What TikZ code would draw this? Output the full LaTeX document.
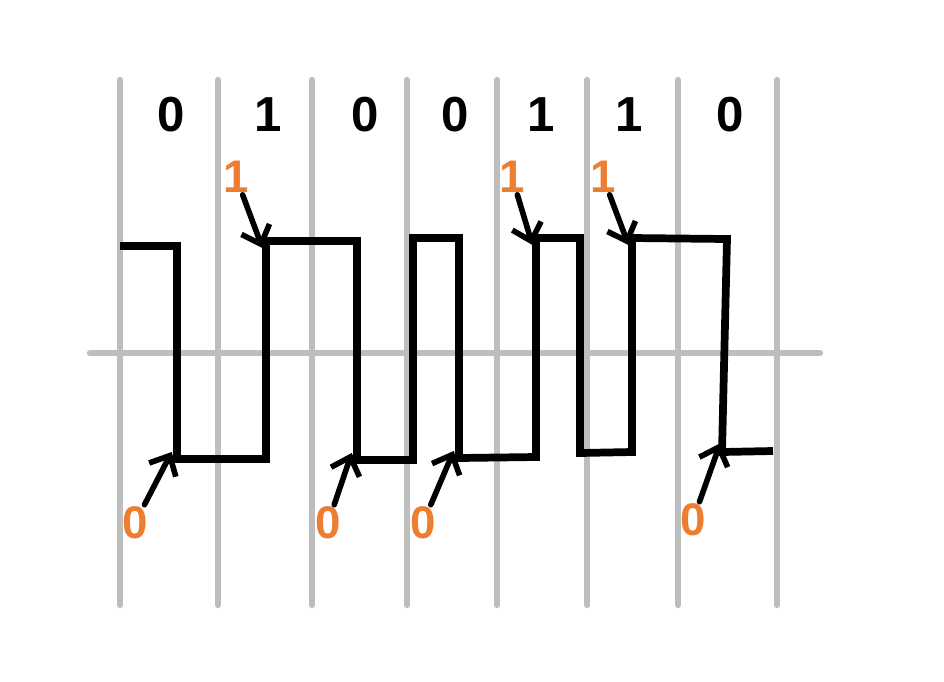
\documentclass[tikz,border=0pt]{standalone}
\usepackage{fontspec}
\setmainfont{Liberation Sans}
\usepackage{xcolor}
\usetikzlibrary{arrows.meta,positioning}
\definecolor{bitorange}{RGB}{237,125,49}
\definecolor{gridgray}{RGB}{190,190,190}

\begin{document}
\begin{tikzpicture}[
    x=0.02cm, y=-0.02cm,
    grid/.style={line width=3.6pt, gridgray, line cap=round},
    signal/.style={line width=4.4pt, black, line join=miter},
    bit/.style={font=\fontsize{28}{30}\selectfont\bfseries, inner sep=1pt},
    level/.style={font=\fontsize{26}{28}\selectfont\bfseries, text=bitorange, inner sep=1pt},
    pointer/.style={-{Straight Barb[length=3.2mm, width=6mm, line width=0pt 1]}, line width=3.2pt, black, line cap=round},
]
\useasboundingbox (0,0) rectangle (944,681);
% Raster
\draw[grid] (90,353) -- (820,353);
\draw[grid] (120,80) -- (120,605);
\draw[grid] (218,80) -- (218,605);
\draw[grid] (312,80) -- (312,605);
\draw[grid] (407,80) -- (407,605);
\draw[grid] (497,80) -- (497,605);
\draw[grid] (587,80) -- (587,605);
\draw[grid] (678,80) -- (678,605);
\draw[grid] (777,80) -- (777,605);
% Bitfolge
\node[bit] (b1) at (171,115) {0};
\node[bit] (b2) at (268,115) {1};
\node[bit] (b3) at (365,115) {0};
\node[bit] (b4) at (455,115) {0};
\node[bit] (b5) at (541,115) {1};
\node[bit] (b6) at (629,115) {1};
\node[bit] (b7) at (730,115) {0};
% Signal
\draw[signal] (120,246) -- (177,246) -- (177,459) coordinate (lo1)
    -- (266,459) -- (266,241) coordinate (hi1) -- (357,241) -- (357,460) coordinate (lo2)
    -- (413,460) -- (413,238) -- (459,238) -- (459,458) coordinate (lo3)
    -- (536,457) -- (536,238) coordinate (hi2) -- (580,238) -- (580,453)
    -- (632,452) -- (632,238) coordinate (hi3) -- (727,239) -- (722,452) coordinate (lo4)
    -- (773,451);
% Pegel
\node[level] (h1) at (236,177) {1};
\node[level] (h2) at (512,177) {1};
\node[level] (h3) at (603,177) {1};
\node[level] (l1) at (135,523) {0};
\node[level] (l2) at (328,523) {0};
\node[level] (l3) at (423,523) {0};
\node[level] (l4) at (693,520) {0};
\draw[pointer] (h1) -- ([xshift=-2, yshift=-4]hi1);
\draw[pointer] (h2) -- ([xshift=-2, yshift=-4]hi2);
\draw[pointer] (h3) -- ([xshift=-2, yshift=-4]hi3);
\draw[pointer] (l1) -- ([xshift=-3, yshift=4]lo1);
\draw[pointer] (l2) -- ([xshift=-3, yshift=4]lo2);
\draw[pointer] (l3) -- ([xshift=-3, yshift=4]lo3);
\draw[pointer] (l4) -- ([xshift=-1, yshift=5]lo4);
\end{tikzpicture}
\end{document}
